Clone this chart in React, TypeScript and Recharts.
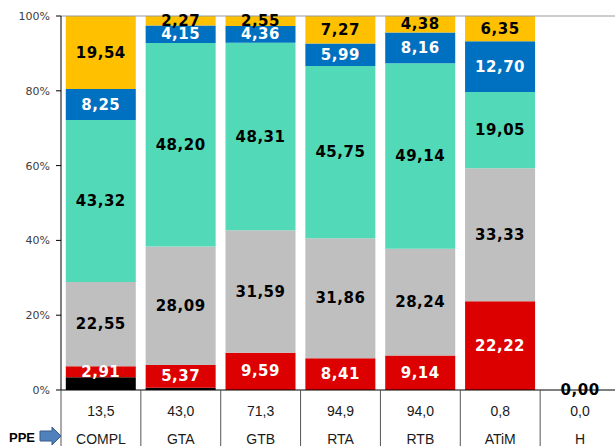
import React from 'react';
import { BarChart, Bar, XAxis, YAxis, ReferenceLine, LabelList } from 'recharts';

const categories = ['COMPL', 'GTA', 'GTB', 'RTA', 'RTB', 'ATiM', 'H'];
const ppeValues = [13.5, 43.0, 71.3, 94.9, 94.0, 0.8, 0.0];
const blackValues = [3.43, 0.55, 0, 0, 0, 0, 0];
const redValues = [2.91, 5.37, 9.59, 8.41, 9.14, 22.22, 0];
const grayValues = [22.55, 28.09, 31.59, 31.86, 28.24, 33.33, 0];
const tealValues = [43.32, 48.2, 48.31, 45.75, 49.14, 19.05, 0];
const blueValues = [8.25, 4.15, 4.36, 5.99, 8.16, 12.7, 0];
const yellowValues = [19.54, 2.27, 2.55, 7.27, 4.38, 6.35, 0];
const yTicks = [0, 0.2, 0.4, 0.6, 0.8, 1];

const data = categories.map((name, i) => ({
  name,
  ppe: ppeValues[i],
  black: blackValues[i],
  red: redValues[i],
  gray: grayValues[i],
  teal: tealValues[i],
  blue: blueValues[i],
  yellow: yellowValues[i],
}));

const totals = data.map((d) => d.black + d.red + d.gray + d.teal + d.blue + d.yellow);

const fmt = (v: number, n: number) => v.toFixed(n).replace('.', ',');

const LABEL_FONT = 'DejaVu Sans, Verdana, sans-serif';

const makeLabel = (arr: number[], color: string, hide = false) => (props: any) => {
  const { x, y, width, height, index } = props;
  if (hide) return null;
  const v = arr[index];
  if (!v) return null;
  const cx = Number(x) + Number(width) / 2;
  const cy = Number(y) + Number(height) / 2;
  return (
    <text x={cx} y={cy} textAnchor="middle" dominantBaseline="central" fontFamily={LABEL_FONT} fontWeight="bold" fontSize={15} fill={color} letterSpacing={0.5}>
      {fmt(v, 2)}
    </text>
  );
};

const TableTick = (props: any) => {
  const { x, y, payload, index } = props;
  const half = payload && typeof payload.offset === 'number' && payload.offset > 0 ? payload.offset : (615 - 61 + 5) / 7 / 2;
  const left = x - half;
  const i = payload.index ?? index;
  return (
    <g>
      <line x1={left} y1={y} x2={left} y2={y + 56} stroke="#555" strokeWidth={1} />
      <text x={x} y={y + 21} textAnchor="middle" dominantBaseline="central" fontFamily="Liberation Sans, Arial, sans-serif" fontSize={14} fill="#1a1a1a">
        {fmt(ppeValues[i], 1)}
      </text>
      <text x={x} y={y + 49} textAnchor="middle" dominantBaseline="central" fontFamily="Liberation Sans, Arial, sans-serif" fontSize={14} fill="#1a1a1a">
        {payload.value}
      </text>
      {totals[i] === 0 && (
        <text x={x} y={y} textAnchor="middle" dominantBaseline="central" fontFamily={LABEL_FONT} fontWeight="bold" fontSize={15} fill="#000" letterSpacing={0.5}>
          {fmt(totals[i], 2)}
        </text>
      )}
      {i === 0 && (
        <g>
          <text x={left - 26} y={y + 47} textAnchor="end" dominantBaseline="central" fontFamily="Liberation Sans, Arial, sans-serif" fontWeight="bold" fontSize={13} fill="#000">
            PPE
          </text>
          <path
            d={`M ${left - 21} ${y + 41} L ${left - 9} ${y + 41} L ${left - 9} ${y + 37} L ${left} ${y + 46} L ${left - 9} ${y + 55} L ${left - 9} ${y + 51} L ${left - 21} ${y + 51} Z`}
            fill="#4F81BD"
            stroke="#385D8A"
            strokeWidth={1}
          />
        </g>
      )}
    </g>
  );
};

export default function App() {
  return (
    <div style={{ position: 'absolute', left: 0, top: 0, width: 615, height: 446, background: '#fff' }}>
      <BarChart
        width={615}
        height={446}
        data={data}
        stackOffset="expand"
        barCategoryGap="6%"
        margin={{ top: 16, right: -5, bottom: 0, left: 0 }}
      >
        <XAxis
          dataKey="name"
          height={56}
          tickLine={false}
          tickSize={0}
          tickMargin={0}
          axisLine={{ stroke: '#000', strokeWidth: 1 }}
          tick={<TableTick />}
          interval={0}
        />
        <YAxis
          width={61}
          domain={[0, 1]}
          ticks={yTicks}
          tickFormatter={(v: number) => `${Math.round(v * 100)}%`}
          tick={{ fontSize: 11, fill: '#404040', fontFamily: 'DejaVu Sans, Verdana, sans-serif' }}
          tickSize={5}
          tickMargin={6}
          tickLine={{ stroke: '#000' }}
          axisLine={{ stroke: '#000', strokeWidth: 1 }}
        />
        <ReferenceLine y={1} stroke="#9a9a9a" strokeWidth={1} />
        <Bar dataKey="black" stackId="a" fill="#000000" isAnimationActive={false}>
          <LabelList content={makeLabel(blackValues, '#fff', true)} />
        </Bar>
        <Bar dataKey="red" stackId="a" fill="#DC0000" isAnimationActive={false}>
          <LabelList content={makeLabel(redValues, '#fff')} />
        </Bar>
        <Bar dataKey="gray" stackId="a" fill="#BFBFBF" isAnimationActive={false}>
          <LabelList content={makeLabel(grayValues, '#000')} />
        </Bar>
        <Bar dataKey="teal" stackId="a" fill="#52D9B8" isAnimationActive={false}>
          <LabelList content={makeLabel(tealValues, '#000')} />
        </Bar>
        <Bar dataKey="blue" stackId="a" fill="#0070C0" isAnimationActive={false}>
          <LabelList content={makeLabel(blueValues, '#fff')} />
        </Bar>
        <Bar dataKey="yellow" stackId="a" fill="#FFC000" isAnimationActive={false}>
          <LabelList content={makeLabel(yellowValues, '#000')} />
        </Bar>
      </BarChart>
    </div>
  );
}
